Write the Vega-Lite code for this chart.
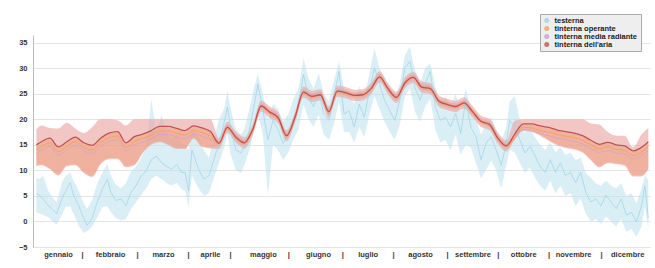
{
  "$schema": "https://vega.github.io/schema/vega-lite/v6.json",
  "width": 617,
  "height": 212,
  "autosize": {"type": "none"},
  "padding": {"left": 33, "top": 35, "right": 5, "bottom": 21},
  "background": "white",
  "config": {
    "view": {"stroke": null},
    "font": "Liberation Sans",
    "axisY": {"labelOverlap": false, "tickCount": 9}
  },
  "datasets": {
    "ext": [
      {"d": 2, "e": 5.5, "lo": 1.8, "hi": 8.5},
      {"d": 4, "e": 5.1, "lo": 1.5, "hi": 8.3},
      {"d": 6, "e": 4.4, "lo": 1.3, "hi": 9.0},
      {"d": 9, "e": 3.1, "lo": 0.8, "hi": 6.0},
      {"d": 12, "e": 2.2, "lo": -0.1, "hi": 4.5},
      {"d": 14, "e": 1.5, "lo": -0.6, "hi": 3.8},
      {"d": 17, "e": 4.4, "lo": 1.2, "hi": 7.5},
      {"d": 19, "e": 5.7, "lo": 2.8, "hi": 8.8},
      {"d": 22, "e": 7.6, "lo": 3.0, "hi": 9.6},
      {"d": 24, "e": 5.1, "lo": 1.5, "hi": 8.0},
      {"d": 27, "e": 3.1, "lo": -0.8, "hi": 6.0},
      {"d": 30, "e": 0.6, "lo": -2.2, "hi": 3.5},
      {"d": 32, "e": -0.7, "lo": -2.0, "hi": 2.5},
      {"d": 35, "e": 0.6, "lo": -1.0, "hi": 4.2},
      {"d": 38, "e": 3.8, "lo": 0.8, "hi": 7.5},
      {"d": 41, "e": 6.3, "lo": 2.8, "hi": 9.5},
      {"d": 44, "e": 8.3, "lo": 3.0, "hi": 11.3},
      {"d": 46, "e": 5.7, "lo": 1.8, "hi": 9.0},
      {"d": 49, "e": 4.1, "lo": 0.7, "hi": 7.2},
      {"d": 52, "e": 4.4, "lo": 0.2, "hi": 6.5},
      {"d": 55, "e": 3.1, "lo": 0.5, "hi": 7.5},
      {"d": 58, "e": 5.7, "lo": 2.5, "hi": 9.8},
      {"d": 61, "e": 7.0, "lo": 3.8, "hi": 10.8},
      {"d": 64, "e": 8.9, "lo": 5.2, "hi": 12.5},
      {"d": 67, "e": 9.9, "lo": 6.5, "hi": 14.5},
      {"d": 70, "e": 12.1, "lo": 8.3, "hi": 24.0},
      {"d": 73, "e": 12.8, "lo": 9.0, "hi": 17.2},
      {"d": 76, "e": 11.5, "lo": 8.3, "hi": 21.0},
      {"d": 79, "e": 10.8, "lo": 7.5, "hi": 17.5},
      {"d": 82, "e": 10.2, "lo": 7.0, "hi": 16.0},
      {"d": 85, "e": 11.2, "lo": 7.6, "hi": 17.2},
      {"d": 88, "e": 9.6, "lo": 6.3, "hi": 15.3},
      {"d": 90, "e": 9.6, "lo": 6.0, "hi": 15.0},
      {"d": 92, "e": 6.0, "lo": 3.0, "hi": 14.0},
      {"d": 94, "e": 14.0, "lo": 9.0, "hi": 18.5},
      {"d": 98, "e": 10.2, "lo": 6.5, "hi": 16.5},
      {"d": 101, "e": 8.3, "lo": 5.0, "hi": 14.0},
      {"d": 104, "e": 8.9, "lo": 5.5, "hi": 12.5},
      {"d": 107, "e": 12.1, "lo": 8.5, "hi": 16.0},
      {"d": 110, "e": 15.3, "lo": 11.5, "hi": 20.0},
      {"d": 113, "e": 19.2, "lo": 14.5, "hi": 22.0},
      {"d": 115, "e": 22.4, "lo": 17.0, "hi": 25.6},
      {"d": 117, "e": 18.2, "lo": 13.0, "hi": 22.0},
      {"d": 120, "e": 14.0, "lo": 10.0, "hi": 18.0},
      {"d": 123, "e": 13.4, "lo": 9.5, "hi": 17.0},
      {"d": 125, "e": 14.7, "lo": 11.0, "hi": 18.0},
      {"d": 128, "e": 17.9, "lo": 14.0, "hi": 22.0},
      {"d": 131, "e": 23.0, "lo": 18.0, "hi": 26.5},
      {"d": 133, "e": 26.9, "lo": 21.0, "hi": 28.8},
      {"d": 136, "e": 21.7, "lo": 17.0, "hi": 25.0},
      {"d": 139, "e": 16.0, "lo": 5.1, "hi": 20.0},
      {"d": 142, "e": 19.8, "lo": 15.0, "hi": 23.0},
      {"d": 145, "e": 17.9, "lo": 14.0, "hi": 22.0},
      {"d": 148, "e": 15.3, "lo": 12.0, "hi": 19.5},
      {"d": 151, "e": 17.2, "lo": 13.5, "hi": 21.0},
      {"d": 154, "e": 19.8, "lo": 16.0, "hi": 24.0},
      {"d": 157, "e": 22.4, "lo": 18.0, "hi": 26.0},
      {"d": 160, "e": 28.8, "lo": 23.0, "hi": 32.0},
      {"d": 163, "e": 24.3, "lo": 20.0, "hi": 28.0},
      {"d": 166, "e": 22.4, "lo": 18.5, "hi": 26.0},
      {"d": 169, "e": 25.6, "lo": 21.0, "hi": 29.0},
      {"d": 172, "e": 21.1, "lo": 17.0, "hi": 25.0},
      {"d": 175, "e": 19.8, "lo": 16.0, "hi": 23.5},
      {"d": 178, "e": 24.3, "lo": 19.0, "hi": 27.5},
      {"d": 181, "e": 29.4, "lo": 23.5, "hi": 31.3},
      {"d": 184, "e": 21.0, "lo": 17.5, "hi": 26.0},
      {"d": 187, "e": 21.7, "lo": 17.5, "hi": 25.0},
      {"d": 190, "e": 18.5, "lo": 15.5, "hi": 23.0},
      {"d": 193, "e": 23.0, "lo": 18.5, "hi": 26.5},
      {"d": 196, "e": 20.4, "lo": 16.5, "hi": 24.0},
      {"d": 199, "e": 25.6, "lo": 21.0, "hi": 29.0},
      {"d": 202, "e": 30.1, "lo": 24.5, "hi": 33.9},
      {"d": 205, "e": 26.9, "lo": 22.0, "hi": 30.0},
      {"d": 208, "e": 23.7, "lo": 19.5, "hi": 27.0},
      {"d": 211, "e": 21.7, "lo": 17.5, "hi": 25.5},
      {"d": 214, "e": 19.8, "lo": 16.0, "hi": 24.0},
      {"d": 217, "e": 23.7, "lo": 19.0, "hi": 27.0},
      {"d": 220, "e": 30.1, "lo": 24.5, "hi": 32.5},
      {"d": 223, "e": 31.3, "lo": 26.0, "hi": 34.2},
      {"d": 226, "e": 26.2, "lo": 21.5, "hi": 29.5},
      {"d": 229, "e": 23.7, "lo": 19.5, "hi": 27.0},
      {"d": 232, "e": 26.9, "lo": 22.5, "hi": 30.0},
      {"d": 235, "e": 29.4, "lo": 24.0, "hi": 31.0},
      {"d": 238, "e": 22.4, "lo": 18.0, "hi": 26.5},
      {"d": 241, "e": 19.8, "lo": 15.5, "hi": 23.0},
      {"d": 244, "e": 20.4, "lo": 16.0, "hi": 24.5},
      {"d": 247, "e": 18.5, "lo": 14.0, "hi": 22.0},
      {"d": 250, "e": 21.1, "lo": 17.0, "hi": 25.0},
      {"d": 253, "e": 17.2, "lo": 13.0, "hi": 21.5},
      {"d": 256, "e": 23.7, "lo": 15.0, "hi": 26.0},
      {"d": 259, "e": 18.5, "lo": 14.5, "hi": 22.0},
      {"d": 262, "e": 16.6, "lo": 11.5, "hi": 20.0},
      {"d": 265, "e": 12.1, "lo": 8.5, "hi": 17.0},
      {"d": 268, "e": 15.3, "lo": 10.0, "hi": 19.0},
      {"d": 271, "e": 16.6, "lo": 12.0, "hi": 20.5},
      {"d": 274, "e": 14.0, "lo": 10.0, "hi": 18.0},
      {"d": 277, "e": 11.0, "lo": 6.5, "hi": 16.0},
      {"d": 280, "e": 15.3, "lo": 11.0, "hi": 18.5},
      {"d": 282, "e": 19.8, "lo": 14.0, "hi": 23.5},
      {"d": 285, "e": 18.5, "lo": 13.5, "hi": 24.5},
      {"d": 288, "e": 16.0, "lo": 11.5, "hi": 20.0},
      {"d": 291, "e": 13.4, "lo": 9.5, "hi": 17.5},
      {"d": 294, "e": 14.7, "lo": 10.5, "hi": 18.0},
      {"d": 297, "e": 12.8, "lo": 8.5, "hi": 16.5},
      {"d": 300, "e": 10.8, "lo": 7.0, "hi": 15.0},
      {"d": 303, "e": 9.6, "lo": 6.0, "hi": 14.0},
      {"d": 306, "e": 12.1, "lo": 8.0, "hi": 15.5},
      {"d": 309, "e": 9.6, "lo": 5.5, "hi": 13.5},
      {"d": 312, "e": 11.5, "lo": 7.0, "hi": 14.5},
      {"d": 315, "e": 9.0, "lo": 5.0, "hi": 13.0},
      {"d": 318, "e": 9.6, "lo": 5.5, "hi": 13.5},
      {"d": 321, "e": 7.6, "lo": 3.0, "hi": 12.0},
      {"d": 324, "e": 9.6, "lo": 4.5, "hi": 12.5},
      {"d": 327, "e": 5.7, "lo": 1.5, "hi": 9.5},
      {"d": 330, "e": 3.8, "lo": 0.0, "hi": 8.5},
      {"d": 333, "e": 4.4, "lo": 0.5, "hi": 7.5},
      {"d": 336, "e": 3.1, "lo": -0.5, "hi": 7.0},
      {"d": 339, "e": 5.1, "lo": 1.0, "hi": 8.0},
      {"d": 342, "e": 3.8, "lo": 0.0, "hi": 7.0},
      {"d": 345, "e": 2.5, "lo": -1.0, "hi": 6.5},
      {"d": 348, "e": 4.4, "lo": 0.5, "hi": 7.5},
      {"d": 351, "e": 1.2, "lo": -2.0, "hi": 5.0},
      {"d": 354, "e": 1.8, "lo": -1.5, "hi": 5.5},
      {"d": 357, "e": -0.1, "lo": -3.0, "hi": 3.5},
      {"d": 360, "e": 3.1, "lo": -1.0, "hi": 6.5},
      {"d": 362, "e": 7.0, "lo": 3.0, "hi": 9.0},
      {"d": 364, "e": 0.6, "lo": -1.5, "hi": 8.0}
    ],
    "int": [
      {"d": 2, "a": 15.0, "alo": 10.8, "ahi": 18.0, "olo": 11.0, "ohi": 14.8, "o": 14.1, "r": 13.4},
      {"d": 5, "a": 15.6, "alo": 11.0, "ahi": 18.8, "olo": 11.2, "ohi": 15.4, "o": 14.7, "r": 14.0},
      {"d": 10, "a": 16.3, "alo": 10.2, "ahi": 18.3, "olo": 10.4, "ohi": 16.1, "o": 15.4, "r": 14.7},
      {"d": 15, "a": 14.6, "alo": 9.0, "ahi": 18.2, "olo": 9.2, "ohi": 14.4, "o": 13.7, "r": 13.0},
      {"d": 20, "a": 15.6, "alo": 10.8, "ahi": 19.3, "olo": 11.0, "ohi": 15.4, "o": 14.7, "r": 14.0},
      {"d": 25, "a": 16.5, "alo": 11.0, "ahi": 18.2, "olo": 11.2, "ohi": 16.3, "o": 15.6, "r": 14.9},
      {"d": 30, "a": 15.4, "alo": 9.5, "ahi": 17.3, "olo": 9.7, "ohi": 15.2, "o": 14.5, "r": 13.8},
      {"d": 35, "a": 14.9, "alo": 8.7, "ahi": 18.5, "olo": 8.9, "ohi": 14.7, "o": 14.0, "r": 13.3},
      {"d": 40, "a": 16.3, "alo": 11.2, "ahi": 20.0, "olo": 11.4, "ohi": 16.1, "o": 15.4, "r": 14.7},
      {"d": 45, "a": 17.3, "alo": 12.2, "ahi": 20.0, "olo": 12.4, "ohi": 17.1, "o": 16.4, "r": 15.7},
      {"d": 50, "a": 17.6, "alo": 12.2, "ahi": 19.8, "olo": 12.4, "ohi": 17.4, "o": 16.7, "r": 16.0},
      {"d": 55, "a": 15.4, "alo": 10.6, "ahi": 18.8, "olo": 10.8, "ohi": 15.2, "o": 14.5, "r": 13.8},
      {"d": 60, "a": 16.6, "alo": 11.0, "ahi": 20.0, "olo": 11.2, "ohi": 16.4, "o": 15.7, "r": 15.0},
      {"d": 65, "a": 17.1, "alo": 13.4, "ahi": 20.0, "olo": 13.6, "ohi": 16.9, "o": 16.2, "r": 15.5},
      {"d": 70, "a": 17.8, "alo": 15.0, "ahi": 20.0, "olo": 15.2, "ohi": 17.6, "o": 16.9, "r": 16.2},
      {"d": 75, "a": 18.6, "alo": 15.5, "ahi": 20.0, "olo": 15.7, "ohi": 18.4, "o": 17.7, "r": 17.0},
      {"d": 80, "a": 18.6, "alo": 14.9, "ahi": 20.0, "olo": 15.1, "ohi": 18.4, "o": 17.7, "r": 17.0},
      {"d": 85, "a": 18.2, "alo": 14.2, "ahi": 20.0, "olo": 14.4, "ohi": 18.0, "o": 17.3, "r": 16.6},
      {"d": 90, "a": 17.8, "alo": 14.2, "ahi": 20.0, "olo": 14.4, "ohi": 17.6, "o": 16.9, "r": 16.2},
      {"d": 95, "a": 18.7, "alo": 16.2, "ahi": 20.0, "olo": 16.4, "ohi": 18.5, "o": 17.8, "r": 17.1},
      {"d": 100, "a": 18.3, "alo": 14.6, "ahi": 20.0, "olo": 14.8, "ohi": 18.1, "o": 17.4, "r": 16.7},
      {"d": 105, "a": 17.6, "alo": 14.3, "ahi": 20.0, "olo": 14.5, "ohi": 17.4, "o": 16.7, "r": 16.0},
      {"d": 110, "a": 15.3, "alo": 14.2, "ahi": 16.4, "olo": 14.7, "ohi": 15.9, "o": 15.2, "r": 15.5},
      {"d": 115, "a": 18.4, "alo": 17.3, "ahi": 19.5, "olo": 17.8, "ohi": 19.0, "o": 18.3, "r": 18.6},
      {"d": 120, "a": 16.5, "alo": 15.4, "ahi": 17.6, "olo": 15.9, "ohi": 17.1, "o": 16.4, "r": 16.7},
      {"d": 125, "a": 15.4, "alo": 14.3, "ahi": 16.5, "olo": 14.8, "ohi": 16.0, "o": 15.3, "r": 15.6},
      {"d": 130, "a": 18.0, "alo": 16.9, "ahi": 19.1, "olo": 17.4, "ohi": 18.6, "o": 17.9, "r": 18.2},
      {"d": 135, "a": 22.6, "alo": 21.5, "ahi": 23.7, "olo": 22.0, "ohi": 23.2, "o": 22.5, "r": 22.8},
      {"d": 140, "a": 21.4, "alo": 20.3, "ahi": 22.5, "olo": 20.8, "ohi": 22.0, "o": 21.3, "r": 21.6},
      {"d": 145, "a": 20.3, "alo": 19.2, "ahi": 21.4, "olo": 19.7, "ohi": 20.9, "o": 20.2, "r": 20.5},
      {"d": 150, "a": 16.8, "alo": 15.7, "ahi": 17.9, "olo": 16.2, "ohi": 17.4, "o": 16.7, "r": 17.0},
      {"d": 155, "a": 20.4, "alo": 19.3, "ahi": 21.5, "olo": 19.8, "ohi": 21.0, "o": 20.3, "r": 20.6},
      {"d": 160, "a": 25.3, "alo": 24.2, "ahi": 26.4, "olo": 24.7, "ohi": 25.9, "o": 25.2, "r": 25.5},
      {"d": 165, "a": 24.5, "alo": 23.4, "ahi": 25.6, "olo": 23.9, "ohi": 25.1, "o": 24.4, "r": 24.7},
      {"d": 170, "a": 24.8, "alo": 23.7, "ahi": 25.9, "olo": 24.2, "ohi": 25.4, "o": 24.7, "r": 25.0},
      {"d": 175, "a": 21.5, "alo": 20.4, "ahi": 22.6, "olo": 20.9, "ohi": 22.1, "o": 21.4, "r": 21.7},
      {"d": 180, "a": 25.5, "alo": 24.4, "ahi": 26.6, "olo": 24.9, "ohi": 26.1, "o": 25.4, "r": 25.7},
      {"d": 185, "a": 25.2, "alo": 24.1, "ahi": 26.3, "olo": 24.6, "ohi": 25.8, "o": 25.1, "r": 25.4},
      {"d": 190, "a": 24.7, "alo": 23.6, "ahi": 25.8, "olo": 24.1, "ohi": 25.3, "o": 24.6, "r": 24.9},
      {"d": 195, "a": 24.8, "alo": 23.7, "ahi": 25.9, "olo": 24.2, "ohi": 25.4, "o": 24.7, "r": 25.0},
      {"d": 200, "a": 26.0, "alo": 24.9, "ahi": 27.1, "olo": 25.4, "ohi": 26.6, "o": 25.9, "r": 26.2},
      {"d": 205, "a": 28.3, "alo": 27.2, "ahi": 29.4, "olo": 27.7, "ohi": 28.9, "o": 28.2, "r": 28.5},
      {"d": 210, "a": 26.0, "alo": 24.9, "ahi": 27.1, "olo": 25.4, "ohi": 26.6, "o": 25.9, "r": 26.2},
      {"d": 215, "a": 24.3, "alo": 23.2, "ahi": 25.4, "olo": 23.7, "ohi": 24.9, "o": 24.2, "r": 24.5},
      {"d": 220, "a": 27.1, "alo": 26.0, "ahi": 28.2, "olo": 26.5, "ohi": 27.7, "o": 27.0, "r": 27.3},
      {"d": 225, "a": 28.2, "alo": 27.1, "ahi": 29.3, "olo": 27.6, "ohi": 28.8, "o": 28.1, "r": 28.4},
      {"d": 230, "a": 26.3, "alo": 25.2, "ahi": 27.4, "olo": 25.7, "ohi": 26.9, "o": 26.2, "r": 26.5},
      {"d": 235, "a": 26.0, "alo": 24.9, "ahi": 27.1, "olo": 25.4, "ohi": 26.6, "o": 25.9, "r": 26.2},
      {"d": 240, "a": 23.6, "alo": 22.5, "ahi": 24.7, "olo": 23.0, "ohi": 24.2, "o": 23.5, "r": 23.8},
      {"d": 245, "a": 22.9, "alo": 21.8, "ahi": 24.0, "olo": 22.3, "ohi": 23.5, "o": 22.8, "r": 23.1},
      {"d": 250, "a": 22.5, "alo": 21.4, "ahi": 23.6, "olo": 21.9, "ohi": 23.1, "o": 22.4, "r": 22.7},
      {"d": 255, "a": 23.2, "alo": 22.1, "ahi": 24.3, "olo": 22.6, "ohi": 23.8, "o": 23.1, "r": 23.4},
      {"d": 260, "a": 21.5, "alo": 20.4, "ahi": 22.6, "olo": 20.9, "ohi": 22.1, "o": 21.4, "r": 21.7},
      {"d": 265, "a": 19.6, "alo": 18.5, "ahi": 20.7, "olo": 19.0, "ohi": 20.2, "o": 19.5, "r": 19.8},
      {"d": 270, "a": 19.0, "alo": 17.9, "ahi": 20.1, "olo": 18.4, "ohi": 19.6, "o": 18.9, "r": 19.2},
      {"d": 275, "a": 16.3, "alo": 15.2, "ahi": 17.4, "olo": 15.7, "ohi": 16.9, "o": 16.2, "r": 16.5},
      {"d": 280, "a": 14.8, "alo": 13.7, "ahi": 15.9, "olo": 14.2, "ohi": 15.4, "o": 14.7, "r": 15.0},
      {"d": 285, "a": 17.1, "alo": 16.0, "ahi": 19.7, "olo": 16.2, "ohi": 16.9, "o": 16.5, "r": 16.3},
      {"d": 290, "a": 19.1, "alo": 17.7, "ahi": 20.0, "olo": 17.9, "ohi": 18.9, "o": 18.4, "r": 18.0},
      {"d": 295, "a": 19.1, "alo": 17.5, "ahi": 20.0, "olo": 17.7, "ohi": 18.9, "o": 18.3, "r": 17.8},
      {"d": 300, "a": 18.7, "alo": 16.8, "ahi": 20.0, "olo": 17.0, "ohi": 18.5, "o": 17.8, "r": 17.2},
      {"d": 305, "a": 18.4, "alo": 15.8, "ahi": 20.0, "olo": 16.0, "ohi": 18.2, "o": 17.5, "r": 16.8},
      {"d": 310, "a": 17.9, "alo": 14.9, "ahi": 20.0, "olo": 15.1, "ohi": 17.7, "o": 17.0, "r": 16.3},
      {"d": 315, "a": 17.6, "alo": 14.4, "ahi": 20.0, "olo": 14.6, "ohi": 17.4, "o": 16.7, "r": 16.0},
      {"d": 320, "a": 17.3, "alo": 14.1, "ahi": 20.0, "olo": 14.3, "ohi": 17.1, "o": 16.4, "r": 15.7},
      {"d": 325, "a": 16.8, "alo": 13.5, "ahi": 20.0, "olo": 13.7, "ohi": 16.6, "o": 15.9, "r": 15.2},
      {"d": 330, "a": 15.9, "alo": 12.0, "ahi": 19.2, "olo": 12.2, "ohi": 15.7, "o": 15.0, "r": 14.3},
      {"d": 335, "a": 15.1, "alo": 10.6, "ahi": 19.0, "olo": 10.8, "ohi": 14.9, "o": 14.2, "r": 13.5},
      {"d": 340, "a": 15.5, "alo": 11.4, "ahi": 17.5, "olo": 11.6, "ohi": 15.3, "o": 14.6, "r": 13.9},
      {"d": 345, "a": 15.0, "alo": 11.2, "ahi": 16.8, "olo": 11.4, "ohi": 14.8, "o": 14.1, "r": 13.4},
      {"d": 350, "a": 14.8, "alo": 10.9, "ahi": 16.8, "olo": 11.1, "ohi": 14.6, "o": 13.9, "r": 13.2},
      {"d": 355, "a": 13.8, "alo": 8.8, "ahi": 14.5, "olo": 9.0, "ohi": 13.6, "o": 12.9, "r": 12.2},
      {"d": 360, "a": 14.5, "alo": 8.8, "ahi": 17.0, "olo": 9.0, "ohi": 14.3, "o": 13.6, "r": 12.9},
      {"d": 364, "a": 15.6, "alo": 10.2, "ahi": 18.3, "olo": 10.4, "ohi": 15.4, "o": 14.7, "r": 14.0}
    ]
  },
  "encoding": {
    "x": {
      "field": "d",
      "type": "quantitative",
      "scale": {"domain": [0, 365], "nice": false, "zero": false},
      "axis": {
        "title": null,
        "domain": false,
        "ticks": false,
        "grid": false,
        "values": [14.8, 29, 45.6, 61.5, 76.9, 91.7, 104.7, 116.6, 136, 151, 168.6, 183, 198, 213, 229, 245, 260, 275, 290, 305, 319.5, 336, 351.5],
        "labelExpr": "['gennaio','|','febbraio','|','marzo','|','aprile','|','maggio','|','giugno','|','luglio','|','agosto','|','settembre','|','ottobre','|','novembre','|','dicembre'][indexof([14.8,29,45.6,61.5,76.9,91.7,104.7,116.6,136,151,168.6,183,198,213,229,245,260,275,290,305,319.5,336,351.5], datum.value)]",
        "labelOverlap": false,
        "labelFlush": false,
        "labelBound": false,
        "labelFontSize": 7.5,
        "labelFontWeight": "bold",
        "labelColor": "#333333",
        "labelPadding": 3
      }
    },
    "y": {
      "field": "lo",
      "type": "quantitative",
      "scale": {"domain": [-5, 36.5], "nice": false, "zero": false},
      "axis": {
        "title": null,
        "values": [-5, 0, 5, 10, 15, 20, 25, 30, 35],
        "labelOverlap": false,
        "ticks": false,
        "grid": true,
        "gridColor": "#e4e4e4",
        "gridWidth": 1,
        "domain": true,
        "domainColor": "#bbbbbb",
        "labelFontSize": 7.5,
        "labelFontWeight": "bold",
        "labelColor": "#333333",
        "labelPadding": 6
      }
    }
  },
  "layer": [
    {
      "data": {"name": "ext"},
      "mark": {"type": "area", "color": "#b9e0ec", "opacity": 0.55, "interpolate": "linear"},
      "encoding": {
        "y2": {"field": "hi"}
      }
    },
    {
      "data": {"name": "int"},
      "mark": {"type": "area", "color": "#eaa8a6", "opacity": 0.65, "interpolate": "monotone"},
      "encoding": {
        "y": {"field": "alo", "type": "quantitative"},
        "y2": {"field": "ahi"}
      }
    },
    {
      "data": {"name": "int"},
      "mark": {"type": "area", "color": "#f09a72", "opacity": 0.45, "interpolate": "monotone"},
      "encoding": {
        "y": {"field": "olo", "type": "quantitative"},
        "y2": {"field": "ohi"}
      }
    },
    {
      "data": {"name": "ext"},
      "mark": {"type": "line", "strokeWidth": 0.8, "opacity": 0.9},
      "encoding": {
        "y": {"field": "e", "type": "quantitative"},
        "color": {
          "datum": "testerna",
          "scale": {
            "domain": ["testerna", "tinterna operante", "tinterna media radiante", "tinterna dell'aria"],
            "range": ["#9fd3e6", "#f4a35a", "#c6a2d8", "#c4504d"]
          },
          "legend": {
            "title": null,
            "orient": "none",
            "legendX": 507,
            "legendY": -21,
            "fillColor": "#eeeeee",
            "strokeColor": "#aaaaaa",
            "padding": 3,
            "rowPadding": 0,
            "clipHeight": 7,
            "symbolType": "circle",
            "symbolSize": 8,
            "symbolStrokeWidth": 2.2,
            "symbolOpacity": 1,
            "labelFontSize": 7.5,
            "labelFontWeight": "bold",
            "labelColor": "#222222",
            "labelOffset": 4
          }
        }
      }
    },
    {
      "data": {"name": "int"},
      "mark": {"type": "line", "strokeWidth": 0.8, "interpolate": "monotone", "opacity": 0.8},
      "encoding": {
        "y": {"field": "r", "type": "quantitative"},
        "color": {"datum": "tinterna media radiante"}
      }
    },
    {
      "data": {"name": "int"},
      "mark": {"type": "line", "strokeWidth": 0.9, "interpolate": "monotone"},
      "encoding": {
        "y": {"field": "o", "type": "quantitative"},
        "color": {"datum": "tinterna operante"}
      }
    },
    {
      "data": {"name": "int"},
      "mark": {"type": "line", "strokeWidth": 1.3, "interpolate": "monotone"},
      "encoding": {
        "y": {"field": "a", "type": "quantitative"},
        "color": {"datum": "tinterna dell'aria"}
      }
    }
  ]
}
